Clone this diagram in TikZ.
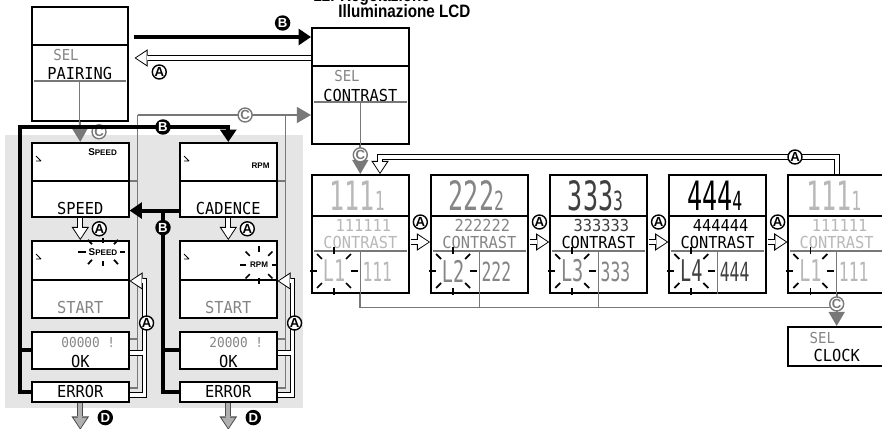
\documentclass[tikz,border=0pt]{standalone}
\usepackage{fontspec}
\setmainfont{Liberation Sans}
\setsansfont{Liberation Sans}
\newfontfamily\lcdfont[FakeStretch=0.93]{DejaVu Sans Mono}
\newfontfamily\lcdnarrow[FakeStretch=0.62]{DejaVu Sans Mono}
\newfontfamily\titlefont[FakeStretch=0.85]{Liberation Sans}
\usetikzlibrary{arrows.meta,calc,positioning}
\definecolor{lcdpale}{gray}{0.72}
\definecolor{lcdmid}{gray}{0.52}
\definecolor{lcddark}{gray}{0.25}
\definecolor{shadegray}{gray}{0.9}
\definecolor{cgray}{gray}{0.47}

\begin{document}
\begin{tikzpicture}[
    x=0.02cm, y=-0.02cm, font=\sffamily,
    % Styles
    lcdbox/.style={draw, line width=0.9pt, fill=white, inner sep=0pt, anchor=north west},
    colbox/.style={lcdbox, minimum width=1.94cm},
    rowbox/.style={lcdbox, minimum width=1.94cm, minimum height=2.36cm},
    lcdtext/.style={inner sep=0pt, font=\lcdfont\fontsize{9.4}{10}\selectfont},
    smalllcd/.style={inner sep=0pt, font=\lcdfont\fontsize{7.8}{8}\selectfont},
    seltext/.style={inner sep=0pt, text=lcdmid, font=\lcdfont\fontsize{8.6}{9}\selectfont},
    bigdig/.style={inner sep=0pt, font=\lcdnarrow\fontsize{23}{24}\selectfont},
    lvldig/.style={inner sep=0pt, font=\lcdnarrow\fontsize{17}{18}\selectfont},
    valdig/.style={inner sep=0pt, font=\lcdnarrow\fontsize{15}{16}\selectfont},
    tag/.style={inner sep=0pt, font=\sffamily\bfseries\fontsize{4.6}{5}\selectfont},
    title/.style={inner sep=0pt, anchor=base west, font=\titlefont\bfseries\fontsize{10.2}{11}\selectfont},
    thinline/.style={line width=0.6pt},
    icon/.style={line width=0.5pt},
    flash/.style={line width=1pt},
    bline/.style={line width=2.2pt},
    barrow/.style={line width=2.2pt, -{Triangle[length=7pt,width=9pt]}},
    gline/.style={draw=cgray, line width=1pt},
    garrow/.style={draw=cgray, line width=1.2pt, -{Triangle[length=8pt,width=9pt]}},
    % hollow arrows: a thick black line, then a thinner white one on top
    hollowline/.style={draw=black, line width=3.3pt, postaction={draw=white, line width=2.1pt}},
    hollow/.style={draw=black, line width=3.3pt, -{Triangle[length=7.5pt,width=10pt,line width=0pt]},
        postaction={draw=white, line width=2.1pt, shorten >=0.9pt, -{Triangle[length=5.9pt,width=7.7pt,line width=0pt]}}},
    darrow/.style={draw=gray!60!black, line width=3.5pt, -{Triangle[length=7.5pt,width=10pt,line width=0pt]},
        postaction={draw=gray!62, line width=2.3pt, shorten >=0.9pt, -{Triangle[length=5.9pt,width=7.7pt,line width=0pt]}}},
    labA/.style={circle, draw=black, line width=0.8pt, fill=white, text=black, inner sep=0pt, minimum size=0.28cm, font=\sffamily\bfseries\fontsize{7.5}{8}\selectfont},
    labB/.style={labA, fill=black, text=white},
    labC/.style={labA, draw=cgray, text=cgray},
    labD/.style={labA, fill=black, text=white}
]
\useasboundingbox (0,0) rectangle (882,429);

% ================= BACKGROUND =================
\fill[shadegray] (5,135) rectangle (303,408);

% ================= TITLES =================
\node[title] (ttlA) at (313,2) {12. Regolazione};
\node[title] (ttlB) at (338,18) {Illuminazione LCD};

% ================= SET SCREENS =================
\node[lcdbox, minimum width=1.92cm, minimum height=2.28cm] (pair) at (31,6) {};
\draw[thinline] ($(pair.north west)+(2,39)$) -- ($(pair.north east)+(-2,39)$);
\node[seltext] (pairSel) at ($(pair.north west)+(35,49)$) {SEL};
\node[lcdtext] (pairTxt) at ($(pair.north)+(0,67)$) {PAIRING};
\draw[gline, line width=0.7pt] ($(pair.north west)+(3,75)$) -- ($(pair.north east)+(-3,75)$);
\draw[gline, line width=0.7pt] ($(pair.north)+(0,75)$) -- (pair.south);

\node[lcdbox, minimum width=1.94cm, minimum height=2.32cm] (cset) at (311,27) {};
\draw[thinline] ($(cset.north west)+(2,39)$) -- ($(cset.north east)+(-2,39)$);
\node[seltext] (csetSel) at ($(cset.north west)+(36,49)$) {SEL};
\node[lcdtext] (csetTxt) at ($(cset.north)+(0,68)$) {CONTRAST};
\draw[gline, line width=0.7pt] ($(cset.north west)+(3,75)$) -- ($(cset.north east)+(-3,75)$);
\draw[gline, line width=0.7pt] ($(cset.north)+(0,75)$) -- (cset.south);

\node[lcdbox, minimum width=1.94cm, minimum height=0.78cm] (clock) at (787.4,326) {};
\node[seltext] (clkSel) at ($(clock.north west)+(35,12)$) {SEL};
\node[lcdtext] (clkTxt) at ($(clock.north)+(0,29)$) {CLOCK};

% ================= PAIRING COLUMNS =================
\foreach \c/\x in {1/31, 2/179} {
  \node[colbox, minimum height=1.48cm] (top\c) at (\x,142) {};
  \node[colbox, minimum height=1.54cm] (st\c) at (\x,240) {};
  \node[colbox, minimum height=0.74cm] (ok\c) at (\x,331) {};
  \node[colbox, minimum height=0.40cm] (err\c) at (\x,381) {};
  \draw[thinline] ($(top\c.north west)+(2,39)$) -- ($(top\c.north east)+(-2,39)$);
  \draw[thinline] ($(st\c.north west)+(2,40)$) -- ($(st\c.north east)+(-2,40)$);
  \draw[icon] ($(top\c.north west)+(5,14)$) -- ++(5,5) ++(-5,0) -- ++(5,0);
  \draw[icon] ($(st\c.north west)+(5,14)$) -- ++(5,5) ++(-5,0) -- ++(5,0);
  \node[lcdtext, text=lcdmid] (stTxt\c) at ($(st\c.south)+(0,-11)$) {START};
  \node[lcdtext] (okTxt\c) at ($(ok\c.south)+(0,-8)$) {OK};
  \node[lcdtext] (errTxt\c) at (err\c.center) {ERROR};
  % gray C lines and hollow A returns
  \coordinate (gtop\c) at ($(top\c.north east)+(8,-27)$);
  \coordinate (ret\c) at ($(st\c.north east)+(15,41)$);
  \draw[gline] ($(top\c.north east)+(0,39)$) -| (gtop\c);
  \draw[gline] ($(ok\c.north east)+(0,8)$) -| (gtop\c);
  \draw[gline] ($(err\c.north east)+(0,7)$) -| (gtop\c);
  \draw[hollow] ($(ok\c.north east)+(0,22)$) -| (ret\c)
    ($(err\c.north east)+(0,14)$) -| (ret\c) -- ($(st\c.north east)+(0,41)$);
  \node[labA] (labRet\c) at ($(ret\c)+(2,42)$) {A};
  \draw[hollow] (top\c.south) -- (st\c.north) node[labA, midway, xshift=0.38cm] (labDown\c) {A};
  \coordinate (dend\c) at ($(err\c.south)+(0,27)$);
  \draw[darrow] (err\c.south) -- (dend\c);
  \node[labD] (labD\c) at ($(err\c.south)+(25,15)$) {D};
}

\node[lcdtext] (spdTxt) at ($(top1.south)+(0,-9)$) {SPEED};
\node[lcdtext] (cadTxt) at ($(top2.south)+(0,-9)$) {CADENCE};
\node[tag] (spdTag) at ($(top1.north east)+(-27,10)$) {{\fontsize{5.6}{6}\selectfont S}PEED};
\node[tag] (rpmTag) at ($(top2.north east)+(-17,24)$) {RPM};
\node[smalllcd, text=lcdmid] (idTxt1) at ($(ok1.north)+(8,12)$) {00000 !};
\node[smalllcd, text=lcdmid] (idTxt2) at ($(ok2.north)+(8,12)$) {20000 !};

% flashing sensor tags
\node[tag] (spdFlash) at ($(st1.north west)+(72,12)$) {{\fontsize{5.6}{6}\selectfont S}PEED};
\draw[flash] ($(spdFlash)+(-17,0)$) -- ($(spdFlash)+(-25,0)$);
\draw[flash] ($(spdFlash)+(17,0)$) -- ($(spdFlash)+(22,0)$);
\foreach \a in {60,90,120,240,270,300}
  \draw[flash] ($(spdFlash)+(\a:22 and 9)$) -- ($(spdFlash)+(\a:30 and 14)$);
\node[tag] (rpmFlash) at ($(st2.north west)+(80,25)$) {RPM};
\foreach \a in {0,45,...,315}
  \draw[flash] ($(rpmFlash)+(\a:13)$) -- ($(rpmFlash)+(\a:19)$);

% ================= CONTRAST LEVELS =================
\foreach \i/\x/\d/\ca/\cb/\cc in {1/311/1/lcdpale/lcdpale/lcdpale, 2/430.1/2/lcdmid/lcdmid/lcdmid,
    3/549.2/3/lcddark/black/lcdmid, 4/668.3/4/black/black/lcddark, 5/787.4/1/lcdpale/lcdpale/lcdpale} {
  \node[rowbox] (row\i) at (\x,174) {};
  \draw[thinline] ($(row\i.north west)+(2,42)$) -- ($(row\i.north east)+(-2,42)$);
  \draw[gline, line width=0.7pt] ($(row\i.north west)+(3,77)$) -- ($(row\i.north east)+(-3,77)$);
  \draw[gline, line width=0.7pt] ($(row\i.north)+(0,77)$) -- (row\i.south);
  \node[bigdig, text=\ca] (rowBig\i) at ($(row\i.north)+(-3,22)$) {\d\d\d{\fontsize{15}{16}\selectfont\d}};
  \node[lcdtext, text=\ca] (rowSix\i) at ($(row\i.north)+(3,51)$) {\d\d\d\d\d\d};
  \node[lcdtext, text=\cb] (rowLab\i) at ($(row\i.north)+(0,68)$) {CONTRAST};
  \node[lvldig, text=\cc] (rowLvl\i) at ($(row\i.north west)+(23,97)$) {L\d};
  \node[valdig, text=\cc] (rowVal\i) at ($(row\i.north)+(17,98)$) {\d\d\d};
  \foreach \a in {0,45,...,315}
    \draw[flash] ($(rowLvl\i)+(\a:17)$) -- ($(rowLvl\i)+(\a:24)$);
}
\foreach \i [evaluate=\i as \j using int(\i+1)] in {1,...,4}
  \draw[hollow] ($(row\i.north east)+(1,68)$) -- ($(row\j.north west)+(0,68)$)
    node[labA, midway, yshift=0.4cm] (labRow\i) {A};

% ================= ARROWS & ROUTING =================
% pairing <-> contrast
\draw[barrow] ($(pair.north east)+(5,31)$) -- ($(cset.north west)+(0,10)$)
  node[labB, pos=0.84, yshift=0.28cm] (labB1) {B};
\draw[hollow] ($(cset.north west)+(0,31)$) -- ($(pair.north east)+(6,52)$)
  node[labA, pos=0.86, yshift=-0.28cm] (labA1) {A};
\draw[garrow] (pair.south) -- (top1.north) node[labC, midway, xshift=0.38cm] (labC1) {C};
\draw[garrow] (gtop1) -- (gtop1 -| cset.west) node[labC, pos=0.62] (labC2) {C};

% B frame round the columns
\coordinate (bTop) at (20,127);
\draw[barrow] (err1.west) -| (bTop) -| (top2.north);
\draw[bline] (ok1.west) -- (ok1.west -| bTop);
\node[labB] (labB2) at ($(bTop)+(143,0)$) {B};
\coordinate (bMid) at ($(top2.south west)+(-16,-7)$);
\draw[barrow] (bMid -| top2.west) -- (bMid -| top1.east);
\draw[bline] (bMid) |- (err2.west);
\draw[bline] (ok2.west -| bMid) -- (ok2.west);
\node[labB] (labB3) at ($(bMid)+(0,17)$) {B};

% contrast loop
\draw[garrow] (cset.south) -- (cset.south |- row1.north) node[labC, pos=0.35] (labC3) {C};
\coordinate (aTop) at (380,157);
\draw[hollow] (row5.north) |- (aTop) -- (aTop |- row1.north);
\node[labA] (labTop) at ($(aTop)+(415,0)$) {A};
\coordinate (cBot) at ($(row5.south)+(0,14)$);
\draw[gline] (row1.south) |- (cBot);
\draw[gline] (row2.south) -- (row2.south |- cBot);
\draw[gline] (row3.south) -- (row3.south |- cBot);
\draw[garrow] (row5.south) -- (clock.north) node[labC, pos=0.32] (labC4) {C};

\end{tikzpicture}
\end{document}
